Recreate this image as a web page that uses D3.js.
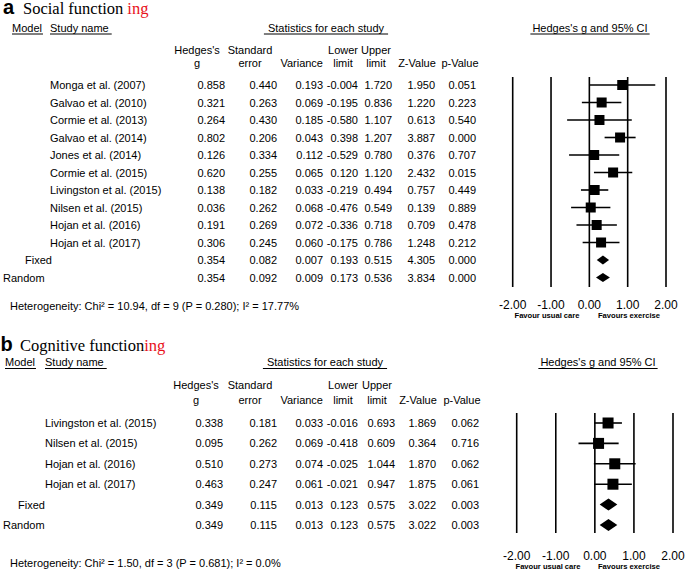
<!DOCTYPE html>
<html><head><meta charset="utf-8">
<script src="https://cdn.jsdelivr.net/npm/d3@7"></script>
<style>
body{margin:0;background:#fff}
svg{display:block}
text{font-family:"Liberation Sans",Arial,Helvetica,sans-serif;fill:#000}
</style>
</head><body>
<svg id="c" width="685" height="571"></svg>
<script>
// ---------- data: panel a (Social functioning) ----------
const namesA = ["Monga et al. (2007)","Galvao et al. (2010)","Cormie et al. (2013)","Galvao et al. (2014)","Jones et al. (2014)","Cormie et al. (2015)","Livingston et al. (2015)","Nilsen et al. (2015)","Hojan et al. (2016)","Hojan et al. (2017)","Fixed","Random"];
const typeA  = ["s","s","s","s","s","s","s","s","s","s","fixed","random"];
const gA   = [0.858,0.321,0.264,0.802,0.126,0.620,0.138,0.036,0.191,0.306,0.354,0.354];
const seA  = [0.440,0.263,0.430,0.206,0.334,0.255,0.182,0.262,0.269,0.245,0.082,0.092];
const varA = [0.193,0.069,0.185,0.043,0.112,0.065,0.033,0.068,0.072,0.060,0.007,0.009];
const lowA = [-0.004,-0.195,-0.580,0.398,-0.529,0.120,-0.219,-0.476,-0.336,-0.175,0.193,0.173];
const upA  = [1.720,0.836,1.107,1.207,0.780,1.120,0.494,0.549,0.718,0.786,0.515,0.536];
const zA   = [1.950,1.220,0.613,3.887,0.376,2.432,0.757,0.139,0.709,1.248,4.305,3.834];
const pA   = [0.051,0.223,0.540,0.000,0.707,0.015,0.449,0.889,0.478,0.212,0.000,0.000];
const hetA = ["10.94","9","0.280","17.77%"];

// ---------- data: panel b (Cognitive functioning) ----------
const namesB = ["Livingston et al. (2015)","Nilsen et al. (2015)","Hojan et al. (2016)","Hojan et al. (2017)","Fixed","Random"];
const typeB  = ["s","s","s","s","fixed","random"];
const gB   = [0.338,0.095,0.510,0.463,0.349,0.349];
const seB  = [0.181,0.262,0.273,0.247,0.115,0.115];
const varB = [0.033,0.069,0.074,0.061,0.013,0.013];
const lowB = [-0.016,-0.418,-0.025,-0.021,0.123,0.123];
const upB  = [0.693,0.609,1.044,0.947,0.575,0.575];
const zB   = [1.869,0.364,1.870,1.875,3.022,3.022];
const pB   = [0.062,0.716,0.062,0.061,0.003,0.003];
const hetB = ["1.50","3","0.681","0.0%"];

// ---------- shared labels ----------
const axisTicks = [-2,-1,0,1,2];
const colHeads = [["Hedges's","g"],["Standard","error"],["","Variance"],["Lower","limit"],["Upper","limit"],["","Z-Value"],["","p-Value"]];

const svg = d3.select("#c");
const loc = d3.formatLocale({decimal:".",thousands:",",grouping:[3],currency:["",""],minus:"-"});
const fmt3 = loc.format(".3f");
const fmt2 = loc.format(".2f");

function drawPanel(c){
  const g = svg.append("g");
  const n = c.names.length;
  const rows = d3.range(n).map(i=>({name:c.names[i],type:c.types[i],vals:[c.g[i],c.se[i],c.v[i],c.lo[i],c.up[i],c.z[i],c.p[i]]}));
  const y = d3.scaleLinear().domain([0,n-1]).range([c.rowTop,c.rowBottom]);
  const x = d3.scaleLinear().domain([-2,2]).range(c.xRange);

  // title
  g.append("text").attr("x",c.letterX).attr("y",c.titleY).attr("font-size",20).attr("font-weight","bold").text(c.letter);
  const tt = g.append("text").attr("x",c.titleX).attr("y",c.titleY).attr("font-size",16.5)
    .style("font-family","'Liberation Serif','Times New Roman',serif").style("white-space","pre");
  tt.append("tspan").text(c.title);
  tt.append("tspan").attr("dx",c.ingGap).style("fill","#e8101a").text("ing");

  // underlined headers
  function uhead(txt,xx,anchor,ext){
    const t = g.append("text").attr("x",xx).attr("y",c.headY).attr("font-size",11).attr("text-anchor",anchor).text(txt);
    const w = t.node().getComputedTextLength();
    let x0 = anchor==="middle"? xx-w/2 : xx;
    g.append("line").attr("x1",x0-ext[0]).attr("x2",x0+w+ext[1]).attr("y1",c.headY+2.5).attr("y2",c.headY+2.5)
      .attr("stroke","#000").attr("stroke-width",1);
  }
  uhead("Model",c.modelX,"start",[0,1]);
  uhead("Study name",c.nameX,"start",[0,3]);
  uhead("Statistics for each study",c.statX,"middle",[4,4]);
  uhead("Hedges's g and 95% CI",c.ciX,"middle",[2,2]);

  // column headers
  colHeads.forEach((h,j)=>{
    const cx = c.headCX[j];
    const anchor = j===2? "end":"middle";
    g.append("text").attr("x",cx).attr("y",c.h1Y).attr("font-size",11).attr("text-anchor",anchor).text(h[0]);
    g.append("text").attr("x",j===2? c.colR[2]: cx).attr("y",c.h2Y).attr("font-size",11).attr("text-anchor",anchor).text(h[1]);
  });

  // rows
  const rg = g.selectAll("g.row").data(rows).join("g").attr("class","row");
  rg.append("text")
    .attr("x",d=>d.type==="s"? c.nameX : (d.type==="fixed"? c.fixedX : c.randomX))
    .attr("y",(d,i)=>y(i)+4).attr("font-size",11).text(d=>d.name);
  rg.each(function(d,i){
    d3.select(this).selectAll("text.v").data(d.vals).join("text").attr("class","v")
      .attr("x",(v,j)=>c.colR[j]).attr("y",y(i)+4).attr("font-size",11).attr("text-anchor","end")
      .text(v=>fmt3(v));
  });

  // forest: vertical reference lines
  g.selectAll("line.ref").data(axisTicks).join("line").attr("class","ref")
    .attr("x1",d=>x(d)).attr("x2",d=>x(d)).attr("y1",c.lineTop).attr("y2",c.lineBottom)
    .attr("stroke","#000").attr("stroke-width",1.6);
  g.selectAll("text.tick").data(axisTicks).join("text").attr("class","tick")
    .attr("x",d=>x(d)).attr("y",c.tickY).attr("font-size",12).attr("text-anchor","middle").text(d=>fmt2(d));
  g.append("text").attr("x",c.fav1X).attr("y",c.favY).attr("font-size",7.6).attr("font-weight","bold").attr("text-anchor","middle").text("Favour usual care");
  g.append("text").attr("x",c.fav2X).attr("y",c.favY).attr("font-size",7.6).attr("font-weight","bold").attr("text-anchor","middle").text("Favours exercise");

  // CI lines + squares
  const studies = rows.map((d,i)=>({...d,i})).filter(d=>d.type==="s");
  g.selectAll("line.ci").data(studies).join("line").attr("class","ci")
    .attr("x1",d=>x(d.vals[3])).attr("x2",d=>x(d.vals[4])).attr("y1",d=>y(d.i)).attr("y2",d=>y(d.i))
    .attr("stroke","#000").attr("stroke-width",1.6);
  g.selectAll("rect.sq").data(studies).join("rect").attr("class","sq")
    .attr("x",d=>x(d.vals[0])-c.sq/2).attr("y",d=>y(d.i)-c.sq/2).attr("width",c.sq).attr("height",c.sq).attr("fill","#000");
  // diamonds
  const sums = rows.map((d,i)=>({...d,i})).filter(d=>d.type!=="s");
  g.selectAll("path.dia").data(sums).join("path").attr("class","dia")
    .attr("d",d=>{const yy=y(d.i),h=c.dh/2;return `M${x(d.vals[3])},${yy}L${x(d.vals[0])},${yy-h}L${x(d.vals[4])},${yy}L${x(d.vals[0])},${yy+h}Z`;})
    .attr("fill","#000");

  // heterogeneity
  const ht = g.append("text").attr("x",10).attr("y",c.hetY).attr("font-size",11);
  ht.text(`Heterogeneity: Chi\u00B2 = ${c.het[0]}, df = ${c.het[1]} (P = ${c.het[2]}); I\u00B2 = ${c.het[3]}`);
}

drawPanel({
  letter:"a", title:"Social function", ingGap:4, letterX:3, titleX:23, titleY:14,
  names:namesA, types:typeA, g:gA, se:seA, v:varA, lo:lowA, up:upA, z:zA, p:pA, het:hetA,
  headY:31.5, modelX:12, nameX:50, fixedX:25, randomX:3, statX:326, ciX:590,
  h1Y:54, h2Y:67, headCX:[197,250,323,343,376,417,460],
  colR:[225,277,323,358,392,435,476],
  rowTop:85, rowBottom:277.5, xRange:[512.7,666], lineTop:77, lineBottom:287,
  tickY:309, favY:318, fav1X:547, fav2X:629, sq:10, dh:9, hetY:310
});
drawPanel({
  letter:"b", title:"Cognitive function", ingGap:0, letterX:0.5, titleX:20, titleY:350.5,
  names:namesB, types:typeB, g:gB, se:seB, v:varB, lo:lowB, up:upB, z:zB, p:pB, het:hetB,
  headY:366, modelX:5, nameX:45, fixedX:18, randomX:3, statX:325, ciX:598,
  h1Y:389, h2Y:404, headCX:[196,250,323,343,377,418,462],
  colR:[223,277,323,358,395,436,479],
  rowTop:423, rowBottom:525, xRange:[516.7,673], lineTop:413, lineBottom:533,
  tickY:560, favY:569, fav1X:548, fav2X:629, sq:11, dh:12, hetY:567
});
</script>
</body></html>
